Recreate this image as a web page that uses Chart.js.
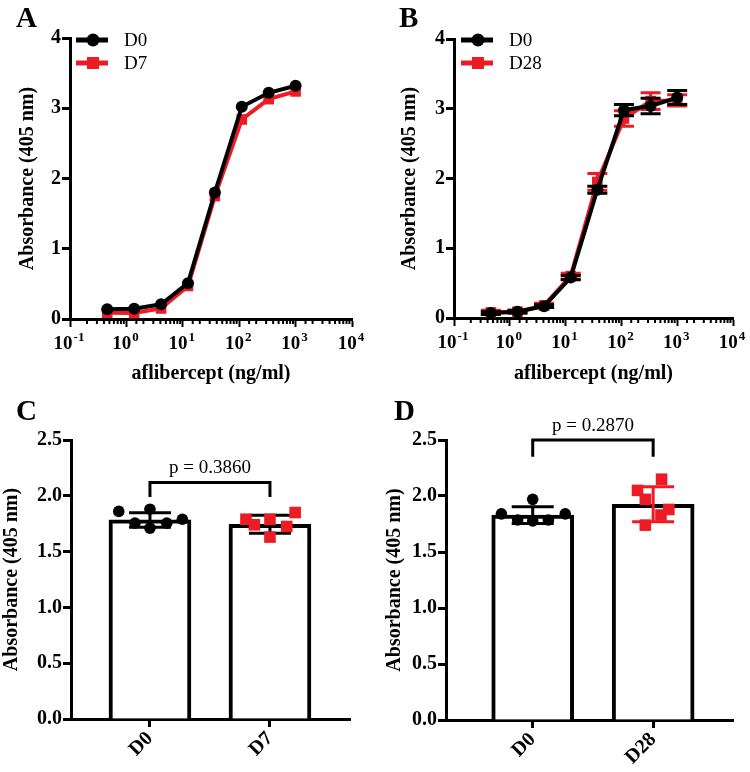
<!DOCTYPE html>
<html><head><meta charset="utf-8">
<script src="https://cdn.jsdelivr.net/npm/chart.js@4/dist/chart.umd.min.js"></script>
<style>
html,body{margin:0;padding:0;background:#fff;}
#wrap{position:relative;width:750px;height:772px;overflow:hidden;}
canvas{position:absolute;}
.lbl{position:absolute;font-family:'Liberation Serif',serif;font-weight:bold;font-size:29px;line-height:1;}
</style></head><body>
<div id="wrap">
<canvas id="cA" width="375" height="386" style="left:0;top:0"></canvas>
<canvas id="cB" width="375" height="386" style="left:375px;top:0"></canvas>
<canvas id="cC" width="375" height="386" style="left:0;top:386px"></canvas>
<canvas id="cD" width="375" height="386" style="left:375px;top:386px"></canvas>
<div class="lbl" style="left:16px;top:3px">A</div>
<div class="lbl" style="left:399px;top:3px">B</div>
<div class="lbl" style="left:16px;top:396px">C</div>
<div class="lbl" style="left:394px;top:396px">D</div>
</div>
<script>
// ---------- data ----------
const concentrations = [0.457, 1.372, 4.115, 12.35, 37.04, 111.1, 333.3, 1000];
const decadeValues = [0.1, 1, 10, 100, 1000, 10000];
const decadeBase = '10';
const decadeExponents = ['-1', '0', '1', '2', '3', '4'];

const aD0 = [0.14, 0.145, 0.21, 0.51, 1.80, 3.02, 3.22, 3.32];
const aD7 = [0.09, 0.085, 0.15, 0.47, 1.75, 2.84, 3.13, 3.24];

const bD0 = [0.07, 0.09, 0.17, 0.58, 1.84, 2.98, 3.04, 3.16];
const bD0Err = [0.02, 0.02, 0.02, 0.03, 0.05, 0.08, 0.11, 0.10];
const bD28 = [0.08, 0.09, 0.18, 0.60, 1.95, 2.86, 3.11, 3.12];
const bD28Err = [0.03, 0.02, 0.03, 0.04, 0.12, 0.11, 0.12, 0.08];

const groupsC = ['D0', 'D7'];
const cD0 = [1.86, 1.88, 1.755, 1.71, 1.755, 1.79];
const cD7 = [1.79, 1.74, 1.79, 1.63, 1.725, 1.85];
const cD0Jitter = [-0.26, 0, -0.125, 0, 0.14, 0.27];
const cD7Jitter = [-0.2, -0.13, 0, 0, 0.14, 0.21];
const cMeans = [1.784, 1.745];
const cSD = [0.065, 0.08];
const pTextC = 'p = 0.3860';

const groupsD = ['D0', 'D28'];
const dD0 = [1.84, 1.97, 1.786, 1.777, 1.786, 1.84];
const dD28 = [2.05, 1.97, 2.15, 1.88, 1.83, 1.74];
const dD0Jitter = [-0.26, 0, -0.125, 0, 0.13, 0.27];
const dD28Jitter = [-0.13, -0.065, 0.07, 0.13, 0.065, -0.065];
const dMeans = [1.83, 1.926];
const dSD = [0.075, 0.157];
const pTextD = 'p = 0.2870';

// ---------- style ----------
const BLACK = '#000000';
const RED = '#ed1c24';
const SERIF = '"Liberation Serif"';
const isDecade = v => { const e = Math.log10(v); return Math.abs(e - Math.round(e)) < 1e-6; };

// ---------- plugins ----------
const errorBars = {
  id: 'errorBars',
  afterDatasetDraw(chart, args) {
    const ds = chart.data.datasets[args.index];
    if (!ds.errors) return;
    const ctx = chart.ctx, yS = chart.scales.y;
    ctx.save();
    ctx.strokeStyle = ds.borderColor;
    ctx.lineWidth = 3;
    args.meta.data.forEach((el, i) => {
      const e = ds.errors[i];
      if (!e) return;
      const v = ds.data[i].y;
      const x = el.x, hw = 10;
      const yt = yS.getPixelForValue(v + e), yb = yS.getPixelForValue(v - e);
      ctx.beginPath();
      ctx.moveTo(x, yt); ctx.lineTo(x, yb);
      ctx.moveTo(x - hw, yt); ctx.lineTo(x + hw, yt);
      ctx.moveTo(x - hw, yb); ctx.lineTo(x + hw, yb);
      ctx.stroke();
    });
    ctx.restore();
  }
};

const logAxisLabels = {
  id: 'logAxisLabels',
  afterDraw(chart) {
    const s = chart.scales.x, ctx = chart.ctx;
    ctx.save();
    ctx.strokeStyle = BLACK; ctx.lineWidth = 2;
    s.ticks.forEach(t => {
      if (isDecade(t.value)) return;
      const x = s.getPixelForValue(t.value);
      ctx.beginPath(); ctx.moveTo(x, s.top); ctx.lineTo(x, s.top + 5); ctx.stroke();
    });
    ctx.fillStyle = BLACK;
    ctx.textBaseline = 'alphabetic'; ctx.textAlign = 'left';
    const baseFont = 'bold 19px ' + SERIF, expFont = 'bold 13px ' + SERIF;
    decadeValues.forEach((v, i) => {
      const x = s.getPixelForValue(v);
      ctx.font = baseFont; const wb = ctx.measureText(decadeBase).width;
      ctx.font = expFont; const we = ctx.measureText(decadeExponents[i]).width;
      const x0 = x - (wb + we + 1) / 2 - 1;
      const y = s.top + 30;
      ctx.font = baseFont; ctx.fillText(decadeBase, x0, y);
      ctx.font = expFont; ctx.fillText(decadeExponents[i], x0 + wb + 1, y - 8);
    });
    ctx.restore();
  }
};

const miniLegend = {
  id: 'miniLegend',
  afterDraw(chart, args, opts) {
    if (!opts || opts.x === undefined) return;
    const ctx = chart.ctx;
    ctx.save();
    chart.data.datasets.forEach((ds, i) => {
      const y = opts.y + i * opts.dy;
      const x0 = opts.x, x1 = opts.x + 32, xm = opts.x + 17;
      ctx.strokeStyle = ds.borderColor; ctx.lineWidth = 5;
      ctx.beginPath(); ctx.moveTo(x0, y); ctx.lineTo(x1, y); ctx.stroke();
      ctx.fillStyle = ds.borderColor;
      if (ds.pointStyle === 'rect') { ctx.fillRect(xm - 6, y - 6, 12, 12); }
      else { ctx.beginPath(); ctx.arc(xm, y, 6.5, 0, Math.PI * 2); ctx.fill(); }
      ctx.fillStyle = BLACK;
      ctx.font = '19px ' + SERIF;
      ctx.textBaseline = 'middle';
      ctx.fillText(ds.label, x1 + 16, y + 1);
    });
    ctx.restore();
  }
};

const bracket = {
  id: 'bracket',
  afterDraw(chart, args, opts) {
    if (!opts || !opts.text) return;
    const ctx = chart.ctx, xS = chart.scales.x, yS = chart.scales.y;
    const xa = xS.getPixelForValue(0), xb = xS.getPixelForValue(1);
    const yt = yS.getPixelForValue(opts.y), yl = yS.getPixelForValue(opts.leg);
    ctx.save();
    ctx.strokeStyle = BLACK; ctx.lineWidth = 3;
    ctx.beginPath();
    ctx.moveTo(xa, yl); ctx.lineTo(xa, yt); ctx.lineTo(xb, yt); ctx.lineTo(xb, yl);
    ctx.stroke();
    ctx.fillStyle = BLACK;
    ctx.font = '19px ' + SERIF;
    ctx.textAlign = 'center'; ctx.textBaseline = 'alphabetic';
    ctx.fillText(opts.text, (xa + xb) / 2, yt - 9);
    ctx.restore();
  }
};

// ---------- helpers ----------
const tickFont = { family: SERIF, size: 20, weight: 'bold' };
const titleFont = { family: SERIF, size: 20, weight: 'bold' };

function lineChart(id, series, labels, errs, pad, yW, xH, yTitlePad, legendX) {
  const mk = (vals, i) => ({
    label: labels[i],
    data: concentrations.map((c, k) => ({ x: c, y: vals[k] })),
    borderColor: i === 0 ? BLACK : RED,
    backgroundColor: i === 0 ? BLACK : RED,
    borderWidth: 4,
    pointStyle: i === 0 ? 'circle' : 'rect',
    pointRadius: i === 0 ? 6 : 7.5,
    pointBorderWidth: 0,
    errors: errs ? errs[i] : null,
    tension: 0
  });
  return new Chart(document.getElementById(id), {
    type: 'line',
    data: { datasets: series.map(mk) },
    options: {
      responsive: false, animation: false,
      layout: { padding: pad },
      plugins: { legend: { display: false }, tooltip: { enabled: false },
                 miniLegend: { x: legendX, y: 40, dy: 23 } },
      scales: {
        x: {
          type: 'logarithmic', min: 0.1, max: 10000,
          afterFit: s => { s.height = xH; },
          border: { color: BLACK, width: 3 },
          grid: { drawOnChartArea: false, drawTicks: true, tickLength: 8, tickWidth: 2,
                  tickColor: c => (c.tick && isDecade(c.tick.value)) ? BLACK : 'rgba(0,0,0,0)' },
          ticks: { autoSkip: false, maxRotation: 0, minRotation: 0, padding: 2, font: tickFont, color: BLACK,
                   callback: () => '' },
          title: { display: true, text: 'aflibercept (ng/ml)', font: titleFont, color: BLACK, padding: { top: 0, bottom: 0 } }
        },
        y: {
          min: 0, max: 4,
          afterFit: s => { s.width = yW; },
          border: { color: BLACK, width: 3 },
          grid: { drawOnChartArea: false, drawTicks: true, tickLength: 8, tickColor: BLACK, tickWidth: 3 },
          ticks: { stepSize: 1, padding: 1, font: tickFont, color: BLACK },
          title: { display: true, text: 'Absorbance (405 nm)', font: titleFont, color: BLACK, padding: { top: yTitlePad, bottom: 0 } }
        }
      }
    },
    plugins: [errorBars, miniLegend, logAxisLabels]
  });
}

function barChart(id, groups, ptsA, ptsB, jitA, jitB, means, sds, errColors, pText, bracketY, bracketLeg, pad, yW, xH, yTitlePad, xMin, xMax) {
  return new Chart(document.getElementById(id), {
    type: 'scatter',
    data: {
      datasets: [
        { type: 'scatter', label: groups[0], order: 1,
          data: ptsA.map((v, i) => ({ x: 0 + jitA[i], y: v })),
          pointStyle: 'circle', pointRadius: 5.8, pointBorderWidth: 0,
          backgroundColor: BLACK, borderColor: BLACK },
        { type: 'scatter', label: groups[1], order: 1,
          data: ptsB.map((v, i) => ({ x: 1 + jitB[i], y: v })),
          pointStyle: 'rect', pointRadius: 8.2, pointBorderWidth: 0,
          backgroundColor: RED, borderColor: RED },
        { type: 'bar', label: 'mean', order: 3,
          data: means.map((m, i) => ({ x: i, y: m })),
          backgroundColor: '#ffffff', borderColor: BLACK, borderWidth: 4,
          barThickness: 82, errors: sds }
      ]
    },
    options: {
      responsive: false, animation: false,
      layout: { padding: pad },
      plugins: { legend: { display: false }, tooltip: { enabled: false },
                 bracket: { text: pText, y: bracketY, leg: bracketLeg } },
      scales: {
        x: {
          type: 'linear', min: xMin, max: xMax, offset: false,
          afterFit: s => { s.height = xH; },
          afterBuildTicks: s => { s.ticks = groups.map((g, i) => ({ value: i })); },
          border: { color: BLACK, width: 3 },
          grid: { offset: false, drawOnChartArea: false, drawTicks: true, tickLength: 8, tickColor: BLACK, tickWidth: 3 },
          ticks: { autoSkip: false, minRotation: 45, maxRotation: 45, padding: 0, font: tickFont, color: BLACK,
                   callback: v => groups[Math.round(v)] }
        },
        y: {
          min: 0, max: 2.5,
          afterFit: s => { s.width = yW; },
          border: { color: BLACK, width: 3 },
          grid: { drawOnChartArea: false, drawTicks: true, tickLength: 8, tickColor: BLACK, tickWidth: 3 },
          ticks: { stepSize: 0.5, padding: 1, font: tickFont, color: BLACK, callback: v => v.toFixed(1) },
          title: { display: true, text: 'Absorbance (405 nm)', font: titleFont, color: BLACK, padding: { top: yTitlePad, bottom: 0 } }
        }
      }
    },
    plugins: [{
      id: 'errorBarsBar',
      afterDatasetDraw(chart, args) {
        const ds = chart.data.datasets[args.index];
        if (!ds.errors) return;
        const ctx = chart.ctx, yS = chart.scales.y;
        ctx.save();
        ctx.lineWidth = 3;
        args.meta.data.forEach((el, i) => {
          const v = ds.data[i].y, e = ds.errors[i], x = el.x, hw = 21;
          const yt = yS.getPixelForValue(v + e), yb = yS.getPixelForValue(v - e);
          ctx.strokeStyle = errColors[i];
          ctx.beginPath();
          ctx.moveTo(x, yt); ctx.lineTo(x, yb);
          ctx.moveTo(x - hw, yt); ctx.lineTo(x + hw, yt);
          ctx.moveTo(x - hw, yb); ctx.lineTo(x + hw, yb);
          ctx.stroke();
        });
        ctx.restore();
      }
    }, bracket]
  });
}

function drawAll() {
  Chart.defaults.font.family = SERIF;
  Chart.defaults.color = BLACK;
  lineChart('cA', [aD0, aD7], ['D0', 'D7'], null, { top: 38, right: 23, left: 0, bottom: 0 }, 70, 67, 16, 76);
  lineChart('cB', [bD0, bD28], ['D0', 'D28'], [bD0Err, bD28Err], { top: 39, right: 17, left: 0, bottom: 0 }, 79, 68, 23, 86);
  barChart('cC', groupsC, cD0, cD7, cD0Jitter, cD7Jitter, cMeans, cSD, [BLACK, BLACK], pTextC, 2.12, 1.99,
    { top: 54, right: 25, left: 0, bottom: 0 }, 71, 53, 0, -0.658, 1.667);
  barChart('cD', groupsD, dD0, dD28, dD0Jitter, dD28Jitter, dMeans, dSD, [BLACK, RED], pTextD, 2.5, 2.35,
    { top: 54, right: 17, left: 0, bottom: 0 }, 71, 52, 8, -0.72, 1.663);
}

Promise.all([
  document.fonts.load('19px "Liberation Serif"'),
  document.fonts.load('bold 19px "Liberation Serif"')
]).then(drawAll, drawAll);
</script>
</body></html>
